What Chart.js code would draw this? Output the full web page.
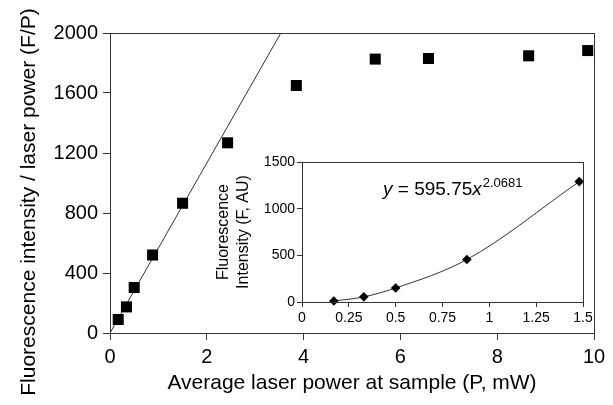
<!DOCTYPE html>
<html>
<head>
<meta charset="utf-8">
<script src="https://cdn.jsdelivr.net/npm/chart.js@4"></script>
<style>
  body { margin: 0; background: #fff; }
  #wrap { position: relative; width: 613px; height: 405px; }
  #main { position: absolute; left: 0; top: 0; }
  #inset { position: absolute; left: 205px; top: 150px; }
</style>
</head>
<body>
<div id="wrap">
  <canvas id="main" width="613" height="405"></canvas>
  <canvas id="inset" width="400" height="180"></canvas>
</div>
<script>
// main plot: F/P vs P
const powerP = [0.17, 0.34, 0.5, 0.88, 1.5, 2.43, 3.85, 5.48, 6.58, 8.65, 9.87];
const ratioFP = [90, 174, 303, 520, 865, 1268, 1650, 1826, 1830, 1848, 1883];
// straight line through the low-power points
const lineP = [0, 3.53];
const lineFP = [0, 2000];
// inset: F vs P
const insetP = [0.17, 0.33, 0.5, 0.88, 1.48];
const insetF = [10, 55, 150, 455, 1290];
const equationText = "595.75";
const equationExp = "2.0681";
const mainYTitle = "Fluorescence intensity / laser power (F/P)";

const font = "'Liberation Sans', Arial, sans-serif";

const toPts = (xs, ys) => xs.map((x, i) => ({ x: x, y: ys[i] }));
const plain = (v) => String(v);

// box around the plot area
const frame = {
  id: "frame",
  afterDraw(chart) {
    const a = chart.chartArea;
    const ctx = chart.ctx;
    ctx.save();
    ctx.strokeStyle = "#333";
    ctx.lineWidth = 1;
    ctx.strokeRect(Math.round(a.left) + 0.5, Math.round(a.top) + 0.5, Math.round(a.right - a.left), Math.round(a.bottom - a.top));
    ctx.restore();
  },
};

// y title of main plot sits lower than the axis centre, so draw it by hand
const yTitle = {
  id: "yTitle",
  afterDraw(chart) {
    const ctx = chart.ctx;
    ctx.save();
    ctx.translate(35, 202);
    ctx.rotate(-Math.PI / 2);
    ctx.font = "21px " + font;
    ctx.fillStyle = "#000";
    ctx.textAlign = "center";
    ctx.textBaseline = "alphabetic";
    ctx.fillText(mainYTitle, 0, 0);
    ctx.restore();
  },
};

const axisGrid = (len) => ({
  drawOnChartArea: false,
  drawTicks: true,
  tickLength: len,
  color: "#333",
});

new Chart(document.getElementById("main"), {
  type: "scatter",
  data: {
    datasets: [
      {
        data: toPts(powerP, ratioFP),
        pointStyle: "rect",
        pointRadius: 7.8,
        backgroundColor: "#000",
        borderColor: "#000",
        borderWidth: 0,
        clip: false,
      },
      {
        type: "line",
        data: toPts(lineP, lineFP),
        borderColor: "#333",
        borderWidth: 1,
        pointRadius: 0,
        fill: false,
      },
    ],
  },
  options: {
    responsive: false,
    animation: false,
    layout: { padding: { top: 33, right: 19, left: 0, bottom: 0 } },
    plugins: { legend: { display: false }, tooltip: { enabled: false } },
    scales: {
      x: {
        type: "linear",
        min: 0,
        max: 10,
        ticks: { stepSize: 2, color: "#000", font: { family: font, size: 20 }, padding: 5, callback: plain },
        grid: axisGrid(7),
        border: { color: "#333" },
        title: {
          display: true,
          text: "Average laser power at sample (P, mW)",
          color: "#000",
          font: { family: font, size: 21, lineHeight: 1.2 },
          padding: { top: 0, bottom: 9 },
        },
        afterFit: (s) => { s.height = 72; },
      },
      y: {
        min: 0,
        max: 2000,
        ticks: { stepSize: 400, color: "#000", font: { family: font, size: 20 }, padding: 5, callback: plain },
        grid: axisGrid(7),
        border: { color: "#333" },
        afterFit: (s) => { s.width = 110; },
      },
    },
  },
  plugins: [frame, yTitle],
});

// equation label in the inset
const equation = {
  id: "equation",
  afterDraw(chart) {
    const ctx = chart.ctx;
    ctx.save();
    ctx.fillStyle = "#000";
    ctx.textBaseline = "alphabetic";
    let x = 178;
    const y = 45;
    ctx.font = "italic 19px " + font;
    ctx.fillText("y", x, y);
    x += ctx.measureText("y").width;
    ctx.font = "19px " + font;
    const mid = " = " + equationText;
    ctx.fillText(mid, x, y);
    x += ctx.measureText(mid).width;
    ctx.font = "italic 19px " + font;
    ctx.fillText("x", x, y);
    x += ctx.measureText("x").width + 1;
    ctx.font = "13px " + font;
    ctx.fillText(equationExp, x, y - 8);
    ctx.restore();
  },
};

new Chart(document.getElementById("inset"), {
  type: "scatter",
  data: {
    datasets: [
      {
        type: "line",
        data: toPts(insetP, insetF),
        borderColor: "#333",
        borderWidth: 1,
        cubicInterpolationMode: "monotone",
        pointStyle: "rectRot",
        pointRadius: 4.8,
        backgroundColor: "#000",
        pointBorderColor: "#000",
        pointBorderWidth: 0,
        fill: false,
        clip: false,
      },
    ],
  },
  options: {
    responsive: false,
    animation: false,
    layout: { padding: { top: 12, right: 22, left: 0, bottom: 0 } },
    plugins: { legend: { display: false }, tooltip: { enabled: false } },
    scales: {
      x: {
        type: "linear",
        min: 0,
        max: 1.5,
        ticks: { stepSize: 0.25, color: "#000", font: { family: font, size: 14 }, padding: 3, callback: plain },
        grid: axisGrid(5),
        border: { color: "#333" },
        afterFit: (s) => { s.height = 28; },
      },
      y: {
        min: 0,
        max: 1500,
        ticks: { stepSize: 500, color: "#000", font: { family: font, size: 14 }, padding: 2, callback: plain },
        grid: axisGrid(5),
        border: { color: "#333" },
        title: {
          display: true,
          text: ["Fluorescence", "Intensity (F, AU)"],
          color: "#000",
          font: { family: font, size: 16, lineHeight: 1.25 },
          padding: { top: 9, bottom: 0 },
        },
        afterFit: (s) => { s.width = 97; },
      },
    },
  },
  plugins: [frame, equation],
});
</script>
</body>
</html>
